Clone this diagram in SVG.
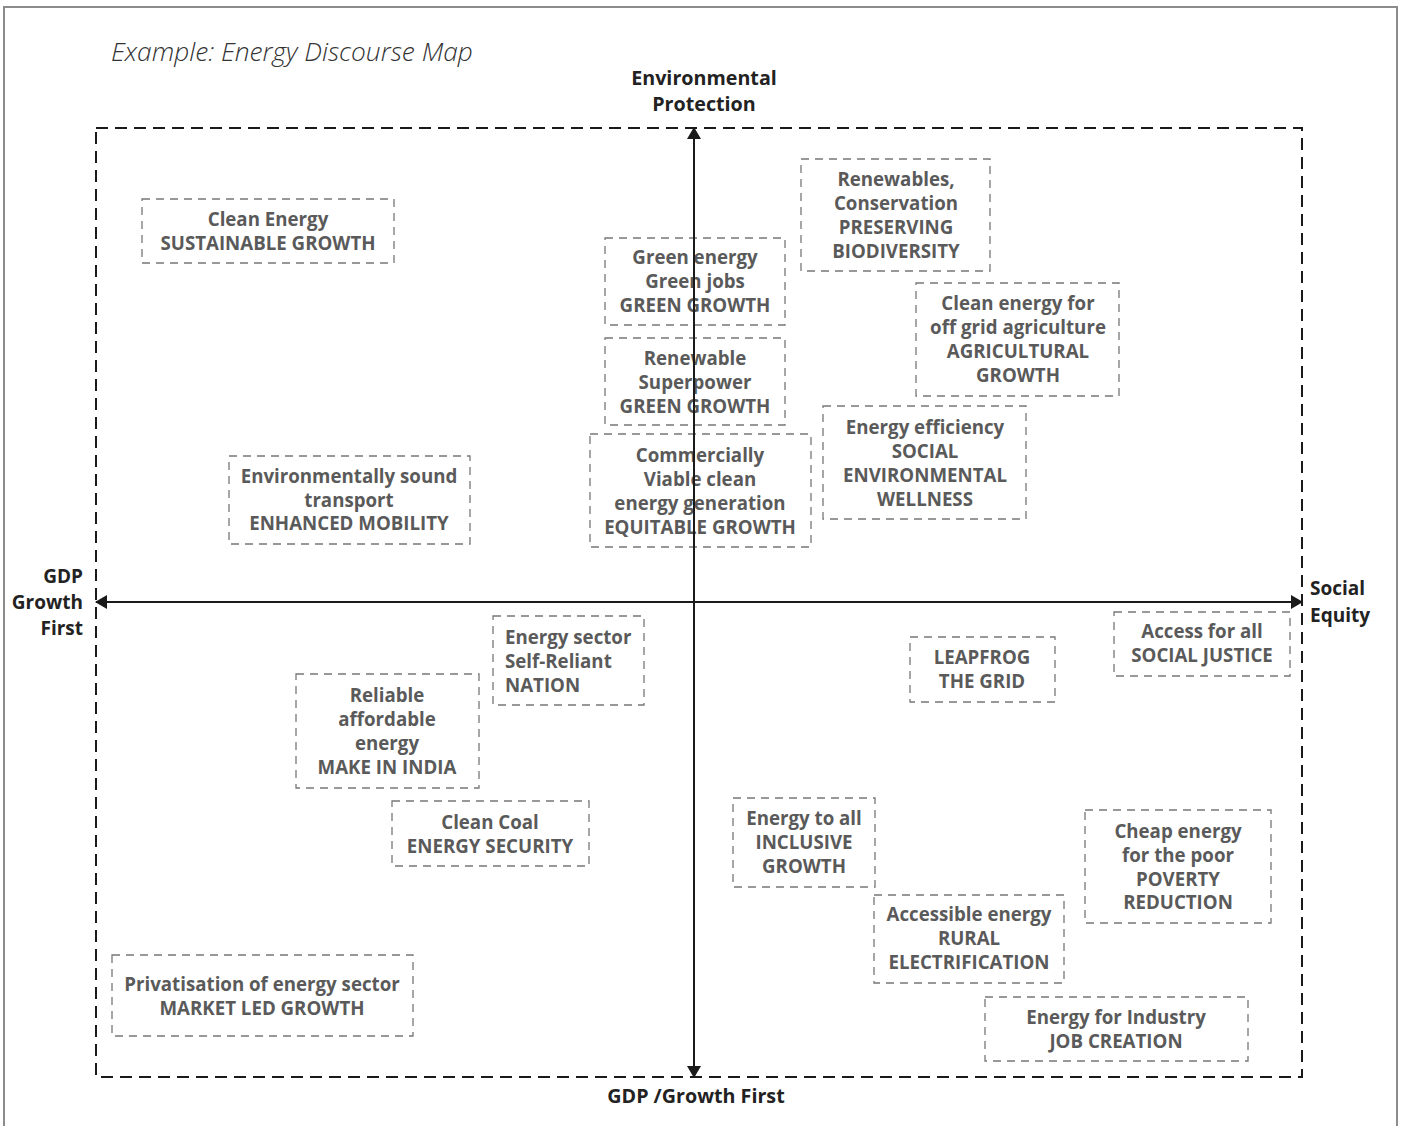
<svg xmlns="http://www.w3.org/2000/svg" width="1403" height="1126" viewBox="0 0 1403 1126">
  <defs>
    <marker id="head" viewBox="0 0 12 14" refX="11" refY="7" markerWidth="12" markerHeight="14" markerUnits="userSpaceOnUse" orient="auto-start-reverse">
      <path d="M0,0 L12,7 L0,14 Z" fill="#1a1a1a"/>
    </marker>
    <style>
      .frame { fill: none; stroke: #8c8c8c; stroke-width: 2; }
      .field { fill: none; stroke: #1a1a1a; stroke-width: 2; stroke-dasharray: 12 7; }
      .box { fill: none; stroke: #777; stroke-width: 1.3; stroke-dasharray: 8 6; }
      .axis { stroke: #1a1a1a; stroke-width: 2; fill: none; }
      .lbl { font-family: "Open Sans", "Noto Sans", "Liberation Sans", sans-serif; font-weight: 700; font-size: 18.7px; fill: #5a5a5a; text-anchor: middle; }
      .lbl.left { text-anchor: start; }
      .ax { font-family: "Open Sans", "Noto Sans", "Liberation Sans", sans-serif; font-weight: 700; font-size: 19.7px; fill: #222; }
      .ax.side { font-size: 19px; }
      .title { font-family: "Open Sans", "Noto Sans", "Liberation Sans", sans-serif; font-style: italic; font-weight: 300; font-size: 26.3px; fill: #333; }
    </style>
  </defs>

  <rect width="1403" height="1126" fill="#fff"/>
  <!-- page frame, open at the bottom -->
  <path class="frame" d="M4,1126 V7 H1397 V1126"/>

  <text class="title" x="111" y="61">Example: Energy Discourse Map</text>

  <!-- quadrant field -->
  <rect class="field" x="96" y="128" width="1206" height="949"/>

  <!-- axis labels -->
  <g id="axis-labels">
    <text class="ax" x="704" y="85" text-anchor="middle">Environmental</text>
    <text class="ax" x="704" y="111" text-anchor="middle">Protection</text>
    <text class="ax side" x="83" y="583" text-anchor="end">GDP</text>
    <text class="ax side" x="83" y="609" text-anchor="end">Growth</text>
    <text class="ax side" x="83" y="635" text-anchor="end">First</text>
    <text class="ax side" x="1310" y="595">Social</text>
    <text class="ax side" x="1310" y="622">Equity</text>
    <text class="ax" x="696" y="1103" text-anchor="middle">GDP /Growth First</text>
  </g>

  <!-- nodes -->
  <g id="n-sustainable">
    <rect class="box" x="142" y="199" width="252" height="64"/>
    <text class="lbl" x="268" y="226">Clean Energy</text>
    <text class="lbl" x="268" y="250">SUSTAINABLE GROWTH</text>
  </g>
  <g id="n-green-jobs">
    <rect class="box" x="605" y="238" width="180" height="87"/>
    <text class="lbl" x="695" y="264">Green energy</text>
    <text class="lbl" x="695" y="288">Green jobs</text>
    <text class="lbl" x="695" y="312">GREEN GROWTH</text>
  </g>
  <g id="n-superpower">
    <rect class="box" x="605" y="338" width="180" height="87"/>
    <text class="lbl" x="695" y="365">Renewable</text>
    <text class="lbl" x="695" y="389">Superpower</text>
    <text class="lbl" x="695" y="413">GREEN GROWTH</text>
  </g>
  <g id="n-equitable">
    <rect class="box" x="590" y="434" width="221" height="113"/>
    <text class="lbl" x="700" y="462">Commercially</text>
    <text class="lbl" x="700" y="486">Viable clean</text>
    <text class="lbl" x="700" y="510">energy generation</text>
    <text class="lbl" x="700" y="534">EQUITABLE GROWTH</text>
  </g>
  <g id="n-biodiversity">
    <rect class="box" x="801" y="159" width="189" height="112"/>
    <text class="lbl" x="896" y="186">Renewables,</text>
    <text class="lbl" x="896" y="210">Conservation</text>
    <text class="lbl" x="896" y="234">PRESERVING</text>
    <text class="lbl" x="896" y="258">BIODIVERSITY</text>
  </g>
  <g id="n-agricultural">
    <rect class="box" x="916" y="283" width="203" height="113"/>
    <text class="lbl" x="1018" y="310">Clean energy for</text>
    <text class="lbl" x="1018" y="334">off grid agriculture</text>
    <text class="lbl" x="1018" y="358">AGRICULTURAL</text>
    <text class="lbl" x="1018" y="382">GROWTH</text>
  </g>
  <g id="n-wellness">
    <rect class="box" x="823" y="406" width="203" height="113"/>
    <text class="lbl" x="925" y="434">Energy efficiency</text>
    <text class="lbl" x="925" y="458">SOCIAL</text>
    <text class="lbl" x="925" y="482">ENVIRONMENTAL</text>
    <text class="lbl" x="925" y="506">WELLNESS</text>
  </g>
  <g id="n-mobility">
    <rect class="box" x="229" y="456" width="241" height="88"/>
    <text class="lbl" x="349" y="483">Environmentally sound</text>
    <text class="lbl" x="349" y="507">transport</text>
    <text class="lbl" x="349" y="530">ENHANCED MOBILITY</text>
  </g>
  <g id="n-nation">
    <rect class="box" x="493" y="616" width="151" height="89"/>
    <text class="lbl left" x="505" y="644">Energy sector</text>
    <text class="lbl left" x="505" y="668">Self-Reliant</text>
    <text class="lbl left" x="505" y="692">NATION</text>
  </g>
  <g id="n-make-in-india">
    <rect class="box" x="296" y="674" width="183" height="114"/>
    <text class="lbl" x="387" y="702">Reliable</text>
    <text class="lbl" x="387" y="726">affordable</text>
    <text class="lbl" x="387" y="750">energy</text>
    <text class="lbl" x="387" y="774">MAKE IN INDIA</text>
  </g>
  <g id="n-energy-security">
    <rect class="box" x="392" y="801" width="197" height="65"/>
    <text class="lbl" x="490" y="829">Clean Coal</text>
    <text class="lbl" x="490" y="853">ENERGY SECURITY</text>
  </g>
  <g id="n-market-led">
    <rect class="box" x="112" y="955" width="301" height="81"/>
    <text class="lbl" x="262" y="991">Privatisation of energy sector</text>
    <text class="lbl" x="262" y="1015">MARKET LED GROWTH</text>
  </g>
  <g id="n-leapfrog">
    <rect class="box" x="910" y="637" width="145" height="65"/>
    <text class="lbl" x="982" y="664">LEAPFROG</text>
    <text class="lbl" x="982" y="688">THE GRID</text>
  </g>
  <g id="n-social-justice">
    <rect class="box" x="1114" y="612" width="176" height="64"/>
    <text class="lbl" x="1202" y="638">Access for all</text>
    <text class="lbl" x="1202" y="662">SOCIAL JUSTICE</text>
  </g>
  <g id="n-inclusive">
    <rect class="box" x="733" y="798" width="142" height="89"/>
    <text class="lbl" x="804" y="825">Energy to all</text>
    <text class="lbl" x="804" y="849">INCLUSIVE</text>
    <text class="lbl" x="804" y="873">GROWTH</text>
  </g>
  <g id="n-poverty">
    <rect class="box" x="1085" y="810" width="186" height="113"/>
    <text class="lbl" x="1178" y="838">Cheap energy</text>
    <text class="lbl" x="1178" y="862">for the poor</text>
    <text class="lbl" x="1178" y="886">POVERTY</text>
    <text class="lbl" x="1178" y="909">REDUCTION</text>
  </g>
  <g id="n-rural">
    <rect class="box" x="874" y="895" width="190" height="88"/>
    <text class="lbl" x="969" y="921">Accessible energy</text>
    <text class="lbl" x="969" y="945">RURAL</text>
    <text class="lbl" x="969" y="969">ELECTRIFICATION</text>
  </g>
  <g id="n-job-creation">
    <rect class="box" x="985" y="997" width="263" height="64"/>
    <text class="lbl" x="1116" y="1024">Energy for Industry</text>
    <text class="lbl" x="1116" y="1048">JOB CREATION</text>
  </g>

  <!-- axes -->
  <g id="connectors">
    <line class="axis" x1="694" y1="1077" x2="694" y2="128" marker-start="url(#head)" marker-end="url(#head)"/>
    <line class="axis" x1="96" y1="602" x2="1302" y2="602" marker-start="url(#head)" marker-end="url(#head)"/>
  </g>
</svg>
